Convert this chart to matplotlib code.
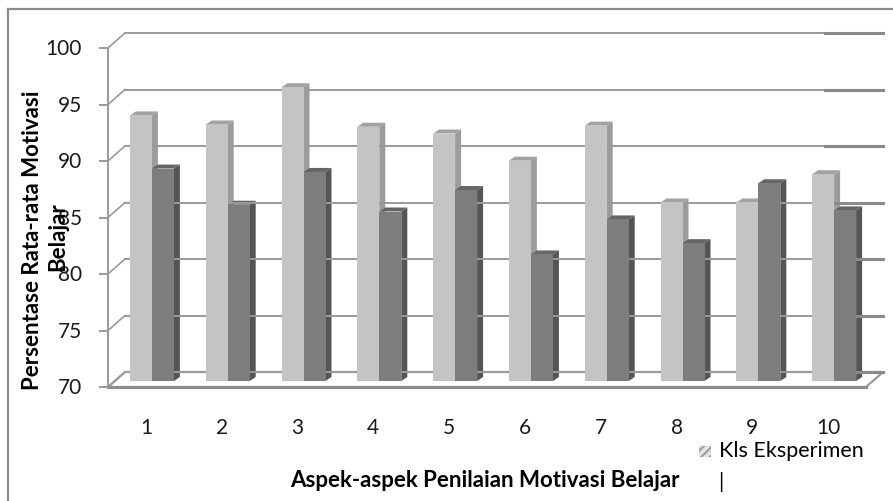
import matplotlib.pyplot as plt
from matplotlib.patches import Polygon, Rectangle
from matplotlib.lines import Line2D

plt.rcParams['font.family'] = ['Lato', 'DejaVu Sans']
plt.rcParams['hatch.linewidth'] = 1.5

categories = [1, 2, 3, 4, 5, 6, 7, 8, 9, 10]
kls_eksperimen = [93.5, 92.7, 96.0, 92.5, 91.9, 89.5, 92.6, 85.8, 85.8, 88.3]
kls_kontrol = [88.8, 85.6, 88.5, 85.0, 86.9, 81.2, 84.3, 82.2, 87.5, 85.1]
yticks = [70, 75, 80, 85, 90, 95, 100]

W, H = 893, 502
fig = plt.figure(figsize=(W / 100, H / 100), dpi=100)

# front plane of the 3d box, in pixels
left, right, bottom, top = 108, 866, 388, 49
ax = fig.add_axes([left / W, 1 - bottom / H, (right - left) / W, (bottom - top) / H])
ax.set_xlim(0.5, 10.5)
ax.set_ylim(70, 100)
ax.axis('off')

ux = 10 / (right - left)      # data units per pixel, x
uy = 30 / (bottom - top)      # data units per pixel, y

back_dx, back_dy = 17 * ux, 15 * uy
grid_c = '#9a9a9a'

# floor
floor = Polygon([(0.5, 70), (10.5, 70), (10.5 + back_dx, 70 + back_dy), (0.5 + back_dx, 70 + back_dy)],
                closed=True, facecolor='white', edgecolor=grid_c, lw=1.6, clip_on=False)
ax.add_patch(floor)
ax.plot([0.5, 10.5], [70, 70], color='#8c8c8c', lw=2.2, clip_on=False)

# back wall grid lines + side wall diagonals + ticks
for v in yticks:
    ax.plot([0.5 + back_dx, 10.5 + back_dx], [v + back_dy, v + back_dy], color=grid_c, lw=1.4, clip_on=False)
    ax.plot([10.5 + back_dx - 58 * ux, 10.5 + back_dx], [v + back_dy, v + back_dy],
            color='#8a8a8a', lw=2.2, clip_on=False)
    ax.plot([0.5, 0.5 + back_dx], [v, v + back_dy], color=grid_c, lw=1.2, clip_on=False)
    ax.plot([0.5 - 8 * ux, 0.5], [v, v], color=grid_c, lw=1.4, clip_on=False)
    ax.text(0.5 - 26 * ux, v, str(v), ha='right', va='center', fontsize=15, color='#1a1a1a')
ax.plot([0.5, 0.5], [70, 100], color=grid_c, lw=1.4, clip_on=False)

# bars, set back into the box
bw = 22 * ux
off_x, off_y = 6 * ux, 6 * uy
sx, sy = 6 * ux, 4 * uy
series = [
    (kls_eksperimen, -bw / 2, '#c4c4c4', '#9c9c9c', '#a2a2a2'),
    (kls_kontrol, bw / 2, '#7d7d7d', '#555555', '#666666'),
]
for vals, shift, front_c, side_c, top_c in series:
    for c, v in zip(categories, vals):
        x0 = c + shift - bw / 2 + off_x
        y0 = 70 + off_y
        y1 = v + off_y
        ax.add_patch(Polygon([(x0 + bw, y0), (x0 + bw + sx, y0 + sy), (x0 + bw + sx, y1 + sy), (x0 + bw, y1)],
                             closed=True, facecolor=side_c, edgecolor='none', clip_on=False))
        ax.add_patch(Polygon([(x0, y1), (x0 + bw, y1), (x0 + bw + sx, y1 + sy), (x0 + sx, y1 + sy)],
                             closed=True, facecolor=top_c, edgecolor='none', clip_on=False))
    ax.bar([c + shift + off_x for c in categories], [v - 70 for v in vals], width=bw, bottom=70 + off_y,
           color=front_c, edgecolor='none', clip_on=False, zorder=3)

# category labels
for c in categories:
    ax.text(c, 70 - 40 * uy, str(c), ha='center', va='center', fontsize=15, color='#1a1a1a')

# axis titles
fig.text(485 / W, 1 - 481 / H, 'Aspek-aspek Penilaian Motivasi Belajar', ha='center', va='center',
         fontsize=16, fontweight='bold')
fig.text(33 / W, 1 - 240 / H, 'Persentase Rata-rata Motivasi', ha='center', va='center',
         rotation=90, fontsize=16, fontweight='bold')
fig.text(58 / W, 1 - 237 / H, 'Belajar', ha='center', va='center',
         rotation=90, fontsize=16, fontweight='bold')

# legend fragment
fig.patches.append(Rectangle((699 / W, 1 - 458 / H), 12 / W, 11 / H, transform=fig.transFigure,
                             facecolor='#e4e4e4', edgecolor='#9a9a9a', lw=0, hatch='////'))
fig.text(719 / W, 1 - 451 / H, 'Kls Eksperimen', ha='left', va='center', fontsize=15.5)
fig.text(721 / W, 1 - 482 / H, '|', ha='center', va='center', fontsize=15)

# chart border (cropped at the right and bottom)
fig.lines.append(Line2D([8 / W, 1], [1 - 10 / H, 1 - 10 / H], transform=fig.transFigure, color='#8c8c8c', lw=1.6))
fig.lines.append(Line2D([8 / W, 8 / W], [1 - 10 / H, 0], transform=fig.transFigure, color='#8c8c8c', lw=1.6))

fig.savefig('out.png', dpi=100)
